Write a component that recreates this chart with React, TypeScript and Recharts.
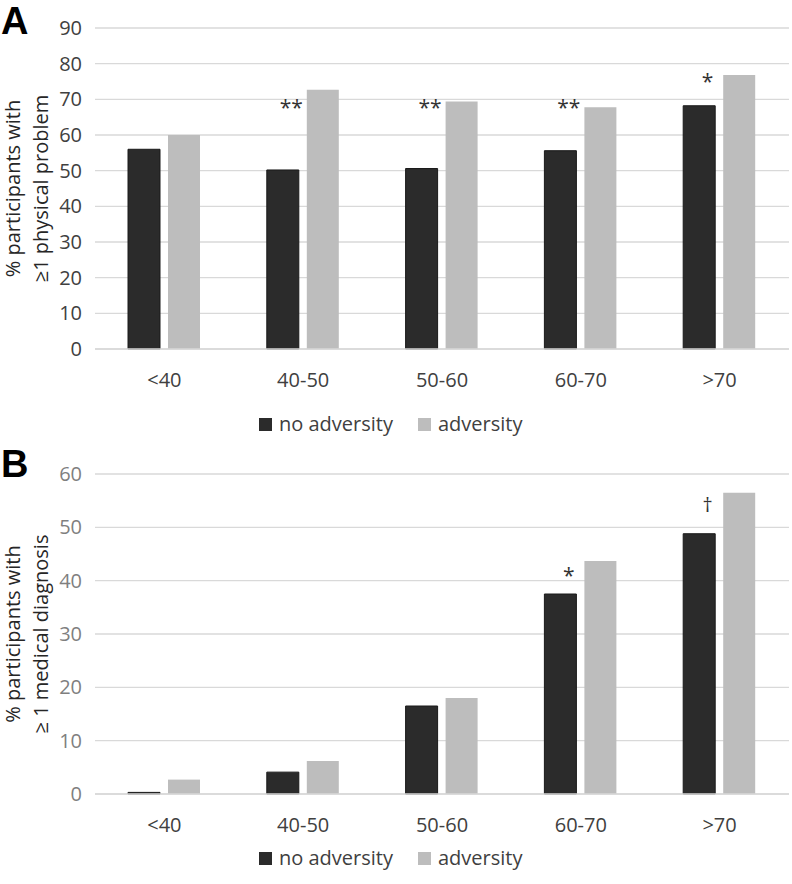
import { Bar, BarChart, CartesianGrid, Legend, ReferenceDot, XAxis, YAxis } from 'recharts'

const ageGroups = ['<40', '40-50', '50-60', '60-70', '>70']
const seriesNames = ['no adversity', 'adversity']
const seriesColors = ['#2b2b2b', '#bdbdbd']

// panel A: % with >=1 physical problem
const physNoAdversity = [56.0, 50.2, 50.6, 55.6, 68.2]
const physAdversity = [60.0, 72.7, 69.4, 67.8, 76.8]
const physSig = ['', '**', '**', '**', '*']
const physSigLevel = [0, 65.5, 65.5, 65.5, 72.8]
const physTicks = [0, 10, 20, 30, 40, 50, 60, 70, 80, 90]

// panel B: % with >=1 medical diagnosis
const diagNoAdversity = [0.3, 4.1, 16.5, 37.5, 48.8]
const diagAdversity = [2.7, 6.2, 18.0, 43.7, 56.5]
const diagSig = ['', '', '', '*', '†']
const diagSigLevel = [0, 0, 0, 39.5, 52.8]
const diagTicks = [0, 10, 20, 30, 40, 50, 60]

const FONT = "'Open Sans', 'Noto Sans', 'DejaVu Sans', sans-serif"

const dataA = ageGroups.map((g, i) => ({ group: g, noAdv: physNoAdversity[i], adv: physAdversity[i] }))
const dataB = ageGroups.map((g, i) => ({ group: g, noAdv: diagNoAdversity[i], adv: diagAdversity[i] }))

function axisTitle(lines: string[]) {
  return (props: any) => {
    const vb = props.viewBox
    const cy = vb.y + vb.height / 2
    const xs = [20, 48]
    return (
      <g>
        {lines.map((l, i) => (
          <text
            key={i}
            x={xs[i]}
            y={cy}
            transform={`rotate(-90, ${xs[i]}, ${cy})`}
            textAnchor="middle"
            fontFamily={FONT}
            fontSize={20}
            fill="#262626"
          >
            {l}
          </text>
        ))}
      </g>
    )
  }
}

function sigLabel(text: string) {
  return (props: any) => {
    const vb = props.viewBox
    const cx = vb.x + vb.width / 2
    const cy = vb.y + vb.height / 2
    return (
      <text
        x={cx - 12}
        y={cy}
        textAnchor="middle"
        fontFamily={FONT}
        fontSize={text === '†' ? 20 : 21}
        fill="#333"
      >
        {text}
      </text>
    )
  }
}

function LegendBox() {
  return (
    <div
      style={{
        display: 'flex',
        alignItems: 'center',
        fontFamily: FONT,
        fontSize: 20,
        lineHeight: '20px',
        color: '#404040',
        whiteSpace: 'nowrap',
      }}
    >
      {seriesNames.map((name, i) => (
        <div key={name} style={{ display: 'flex', alignItems: 'center', marginRight: i === 0 ? 25 : 0 }}>
          <span style={{ width: 13, height: 13, background: seriesColors[i], marginRight: 7, display: 'inline-block' }} />
          <span>{name}</span>
        </div>
      ))}
    </div>
  )
}

interface PanelProps {
  data: { group: string; noAdv: number; adv: number }[]
  height: number
  top: number
  bottom: number
  ticks: number[]
  tickColor: string
  titleLines: string[]
  sig: string[]
  sigLevel: number[]
  legendTop: number
}

function Panel({ data, height, top, bottom, ticks, tickColor, titleLines, sig, sigLevel, legendTop }: PanelProps) {
  return (
    <BarChart
      width={792}
      height={height}
      data={data}
      margin={{ top, right: 3, left: 0, bottom }}
      barSize={32}
      barGap={8}
    >
      <CartesianGrid vertical={false} stroke="#d9d9d9" strokeWidth={1.4} />
      <XAxis
        dataKey="group"
        height={40}
        tickLine={false}
        axisLine={{ stroke: '#d9d9d9', strokeWidth: 1.4 }}
        tickMargin={18}
        tick={{ fill: '#404040', fontSize: 20, fontFamily: FONT }}
      />
      <YAxis
        width={95}
        domain={[0, ticks[ticks.length - 1]]}
        ticks={ticks}
        interval={0}
        tickLine={false}
        axisLine={false}
        tickMargin={7}
        tick={{ fill: tickColor, fontSize: 20, fontFamily: FONT }}
        label={axisTitle(titleLines)}
      />
      <Legend
        layout="horizontal"
        verticalAlign="middle"
        align="center"
        wrapperStyle={{ top: legendTop, left: 259, width: 400 }}
        content={() => <LegendBox />}
      />
      <Bar dataKey="noAdv" name={seriesNames[0]} fill={seriesColors[0]} stroke="#1a1a1a" strokeWidth={1} isAnimationActive={false} />
      <Bar dataKey="adv" name={seriesNames[1]} fill={seriesColors[1]} isAnimationActive={false} />
      {sig.map((s, i) =>
        s ? (
          <ReferenceDot
            key={i}
            x={ageGroups[i]}
            y={sigLevel[i]}
            r={0}
            fill="none"
            stroke="none"
            label={sigLabel(s)}
          />
        ) : null
      )}
    </BarChart>
  )
}

const panelLetter = {
  position: 'absolute' as const,
  left: 1,
  fontFamily: "'Liberation Sans', Arial, sans-serif",
  fontWeight: 'bold' as const,
  fontSize: 38,
  lineHeight: '43px',
}

export default function App() {
  return (
    <div style={{ position: 'absolute', left: 0, top: 0, width: 792, height: 884, background: '#fff' }}>
      <div style={{ position: 'absolute', left: 0, top: 0 }}>
        <Panel
          data={dataA}
          height={445}
          top={28}
          bottom={56}
          ticks={physTicks}
          tickColor="#404040"
          titleLines={['% participants with', '≥1 physical problem']}
          sig={physSig}
          sigLevel={physSigLevel}
          legendTop={414}
        />
      </div>
      <div style={{ position: 'absolute', left: 0, top: 445 }}>
        <Panel
          data={dataB}
          height={439}
          top={29}
          bottom={50}
          ticks={diagTicks}
          tickColor="#7f7f7f"
          titleLines={['% participants with', '≥ 1 medical diagnosis']}
          sig={diagSig}
          sigLevel={diagSigLevel}
          legendTop={403}
        />
      </div>
      <div style={{ ...panelLetter, top: 0 }}>A</div>
      <div style={{ ...panelLetter, top: 443 }}>B</div>
    </div>
  )
}
